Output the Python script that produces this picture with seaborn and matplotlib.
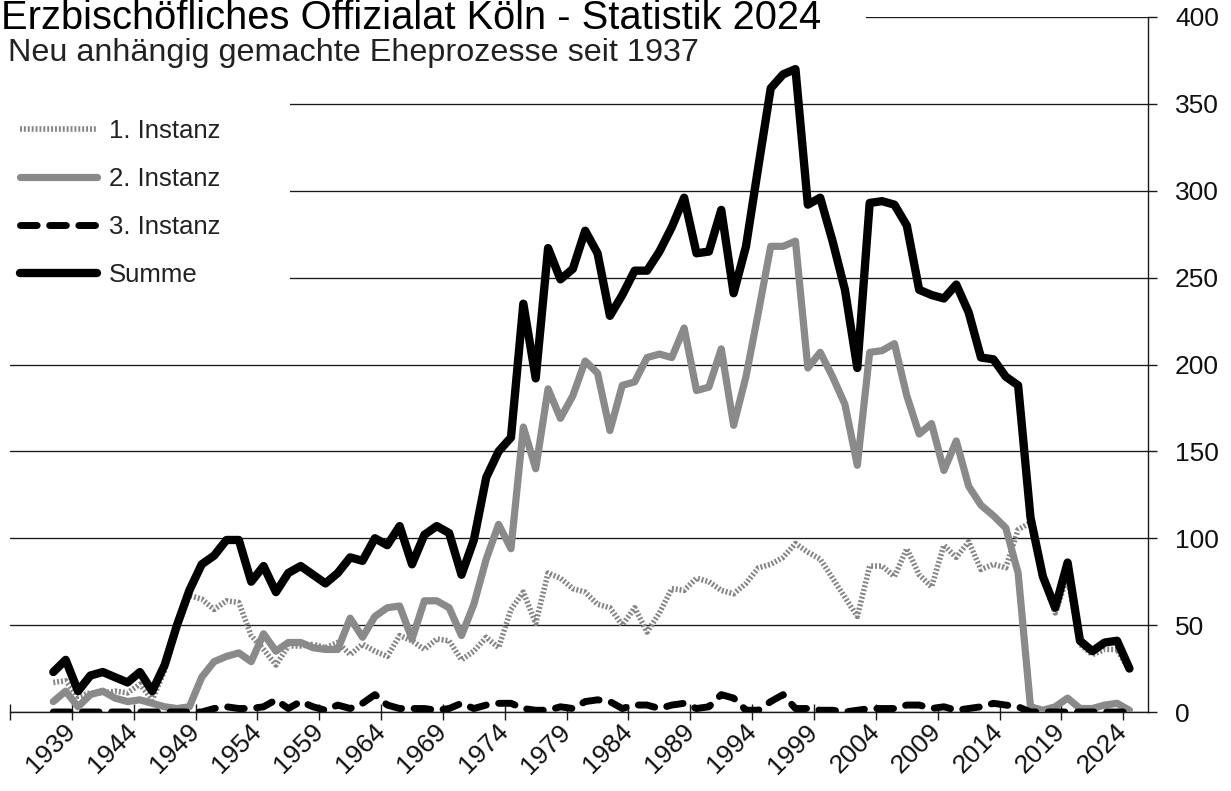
import numpy as np
import pandas as pd
import matplotlib
matplotlib.use("Agg")
import matplotlib.pyplot as plt
import seaborn as sns
from matplotlib.patches import Rectangle

# ---------------- data ----------------
years = list(range(1937, 2025))

instanz1 = [17, 18, 9, 11, 11, 12, 11, 16, 7, 24,
            48, 67, 65, 59, 64, 63, 44, 36, 27, 38,
            38, 39, 37, 40, 33, 39, 35, 32, 44, 41,
            36, 42, 41, 30, 35, 43, 37, 59, 69, 51,
            80, 77, 71, 69, 62, 60, 50, 60, 46, 57,
            71, 70, 77, 75, 70, 68, 74, 83, 85, 89,
            97, 92, 88, 77, 66, 55, 84, 84, 78, 94,
            79, 72, 96, 89, 98, 82, 85, 83, 105, 109,
            77, 57, 78, 39, 33, 36, 36, 24]

instanz2 = [6, 12, 3, 10, 12, 8, 6, 7, 5, 3,
            2, 3, 20, 29, 32, 34, 29, 45, 35, 40,
            40, 37, 36, 36, 54, 43, 55, 60, 61, 42,
            64, 64, 60, 44, 62, 88, 108, 94, 164, 140,
            186, 169, 182, 202, 195, 162, 188, 190, 204, 206,
            204, 221, 185, 187, 209, 165, 193, 230, 268, 268,
            271, 198, 207, 193, 177, 142, 207, 208, 212, 182,
            160, 166, 139, 156, 130, 119, 113, 106, 80, 3,
            1, 3, 8, 2, 2, 4, 5, 1]

instanz3 = [0, 0, 0, 0, 0, 0, 0, 0, 0, 0,
            0, 0, 0, 2, 3, 2, 2, 3, 7, 2,
            6, 3, 1, 4, 2, 5, 10, 4, 2, 2,
            2, 1, 2, 5, 2, 4, 5, 5, 2, 1,
            1, 3, 2, 6, 7, 6, 2, 4, 4, 2,
            4, 5, 2, 3, 10, 8, 1, 1, 6, 10,
            2, 2, 1, 1, 0, 1, 2, 2, 2, 4,
            4, 2, 3, 1, 2, 3, 5, 4, 3, 0,
            0, 0, 0, 0, 0, 0, 0, 0]

summe = [23, 30, 12, 21, 23, 20, 17, 23, 12, 27,
         50, 70, 85, 90, 99, 99, 75, 84, 69, 80,
         84, 79, 74, 80, 89, 87, 100, 96, 107, 85,
         102, 107, 103, 79, 99, 135, 150, 158, 235, 192,
         267, 249, 255, 277, 264, 228, 240, 254, 254, 265,
         279, 296, 264, 265, 289, 241, 268, 314, 359, 367,
         370, 292, 296, 271, 243, 198, 293, 294, 292, 280,
         243, 240, 238, 246, 230, 204, 203, 193, 188, 112,
         78, 60, 86, 41, 35, 40, 41, 25]

series_names = ["1. Instanz", "2. Instanz", "3. Instanz", "Summe"]
tick_years = list(range(1939, 2025, 5))
y_ticks = list(range(0, 401, 50))
title_text = "Erzbischöfliches Offizialat Köln - Statistik 2024"
subtitle_text = "Neu anhängig gemachte Eheprozesse seit 1937"

df = pd.DataFrame({"Jahr": years,
                   series_names[0]: instanz1,
                   series_names[1]: instanz2,
                   series_names[2]: instanz3,
                   series_names[3]: summe})
long = df.melt(id_vars="Jahr", var_name="Serie", value_name="Anzahl")

# ---------------- style ----------------
sns.set_theme(style="white")
plt.rcParams["font.family"] = ["Liberation Sans", "DejaVu Sans"]

W, H = 1231, 791
fig = plt.figure(figsize=(W / 100, H / 100), dpi=100)
ax = fig.add_axes([10 / W, 79 / H, 1138 / W, 695 / H])

styles = {
    "1. Instanz": dict(color="#858585", lw=4.0, dashes=(0.35, 0.35), cap="butt"),
    "2. Instanz": dict(color="#8a8a8a", lw=5.2, dashes=None, cap="round"),
    "3. Instanz": dict(color="black", lw=5.0, dashes=(2.4, 1.8), cap="round"),
    "Summe": dict(color="black", lw=6.0, dashes=None, cap="round"),
}

handles = []
for name in series_names:
    st = styles[name]
    sub = long[long["Serie"] == name]
    sns.lineplot(data=sub, x="Jahr", y="Anzahl", ax=ax, color=st["color"],
                 linewidth=st["lw"], legend=False, zorder=3)
    ln = ax.lines[-1]
    ln.set_solid_capstyle(st["cap"])
    ln.set_solid_joinstyle("round")
    if st["dashes"] is not None:
        ln.set_dashes(st["dashes"])
        ln.set_dash_capstyle(st["cap"])
    ln.set_label(name)
    handles.append(ln)

ax.set_xlim(1933.5, 2025.5)
ax.set_ylim(0, 400)

# grid
ax.set_axisbelow(True)
ax.yaxis.grid(True, color="#1a1a1a", linewidth=0.95)
ax.xaxis.grid(False)

# spines
for s in ["left", "top"]:
    ax.spines[s].set_visible(False)
for s in ["right", "bottom"]:
    ax.spines[s].set_visible(True)
    ax.spines[s].set_color("#1a1a1a")
    ax.spines[s].set_linewidth(1.0)

# y axis on right
ax.yaxis.tick_right()
ax.set_yticks(y_ticks)
ax.set_yticklabels([str(v) for v in y_ticks])
ax.tick_params(axis="y", direction="out", length=6.5, width=1.0, color="#1a1a1a",
               labelsize=19, pad=13, right=True, left=False, labelcolor="#111111")

# x ticks at category boundaries
xt = [1933.5] + [y - 0.5 for y in tick_years]
ax.set_xticks(xt)
ax.set_xticklabels([""] + [str(y) for y in tick_years])
ax.tick_params(axis="x", direction="inout", length=11, width=1.0, color="#1a1a1a",
               labelsize=19, pad=6, bottom=True, labelcolor="#111111")
for lab in ax.get_xticklabels():
    lab.set_rotation(45)
    lab.set_ha("right")
    lab.set_rotation_mode("anchor")
    lab.set_va("center")

ax.set_xlabel("")
ax.set_ylabel("")

# white boxes behind legend and title (cover gridlines as in original)
ax.add_patch(Rectangle((0, 1 - 300 / H), 290 / W, 215 / H, transform=fig.transFigure,
                       facecolor="white", edgecolor="none", zorder=1, clip_on=False))
ax.add_patch(Rectangle((0, 1 - 33 / H), 866 / W, 33 / H, transform=fig.transFigure,
                       facecolor="white", edgecolor="none", zorder=1, clip_on=False))

leg = ax.legend(handles=handles, labels=series_names, loc="upper left",
                bbox_to_anchor=(20 / W, 1 - 119 / H), bbox_transform=fig.transFigure,
                frameon=False, fontsize=18.5, handlelength=3.0, handletextpad=0.45,
                labelspacing=0.93, borderpad=0, borderaxespad=0)
for t in leg.get_texts():
    t.set_color("#222222")

# title & subtitle, fitted to the measured widths of the original
def fitted_text(x_px, base_px, s, target_w, size0, **kw):
    t = fig.text(x_px / W, 1 - base_px / H, s, fontsize=size0, va="baseline",
                 ha="left", **kw)
    fig.canvas.draw()
    w = t.get_window_extent().width
    t.set_fontsize(size0 * target_w / w)
    return t

fitted_text(1, 29, title_text, 820, 24, color="black")
fitted_text(8, 61, subtitle_text, 690, 20, color="#222222")

fig.savefig("out.png", dpi=100, facecolor="white")
